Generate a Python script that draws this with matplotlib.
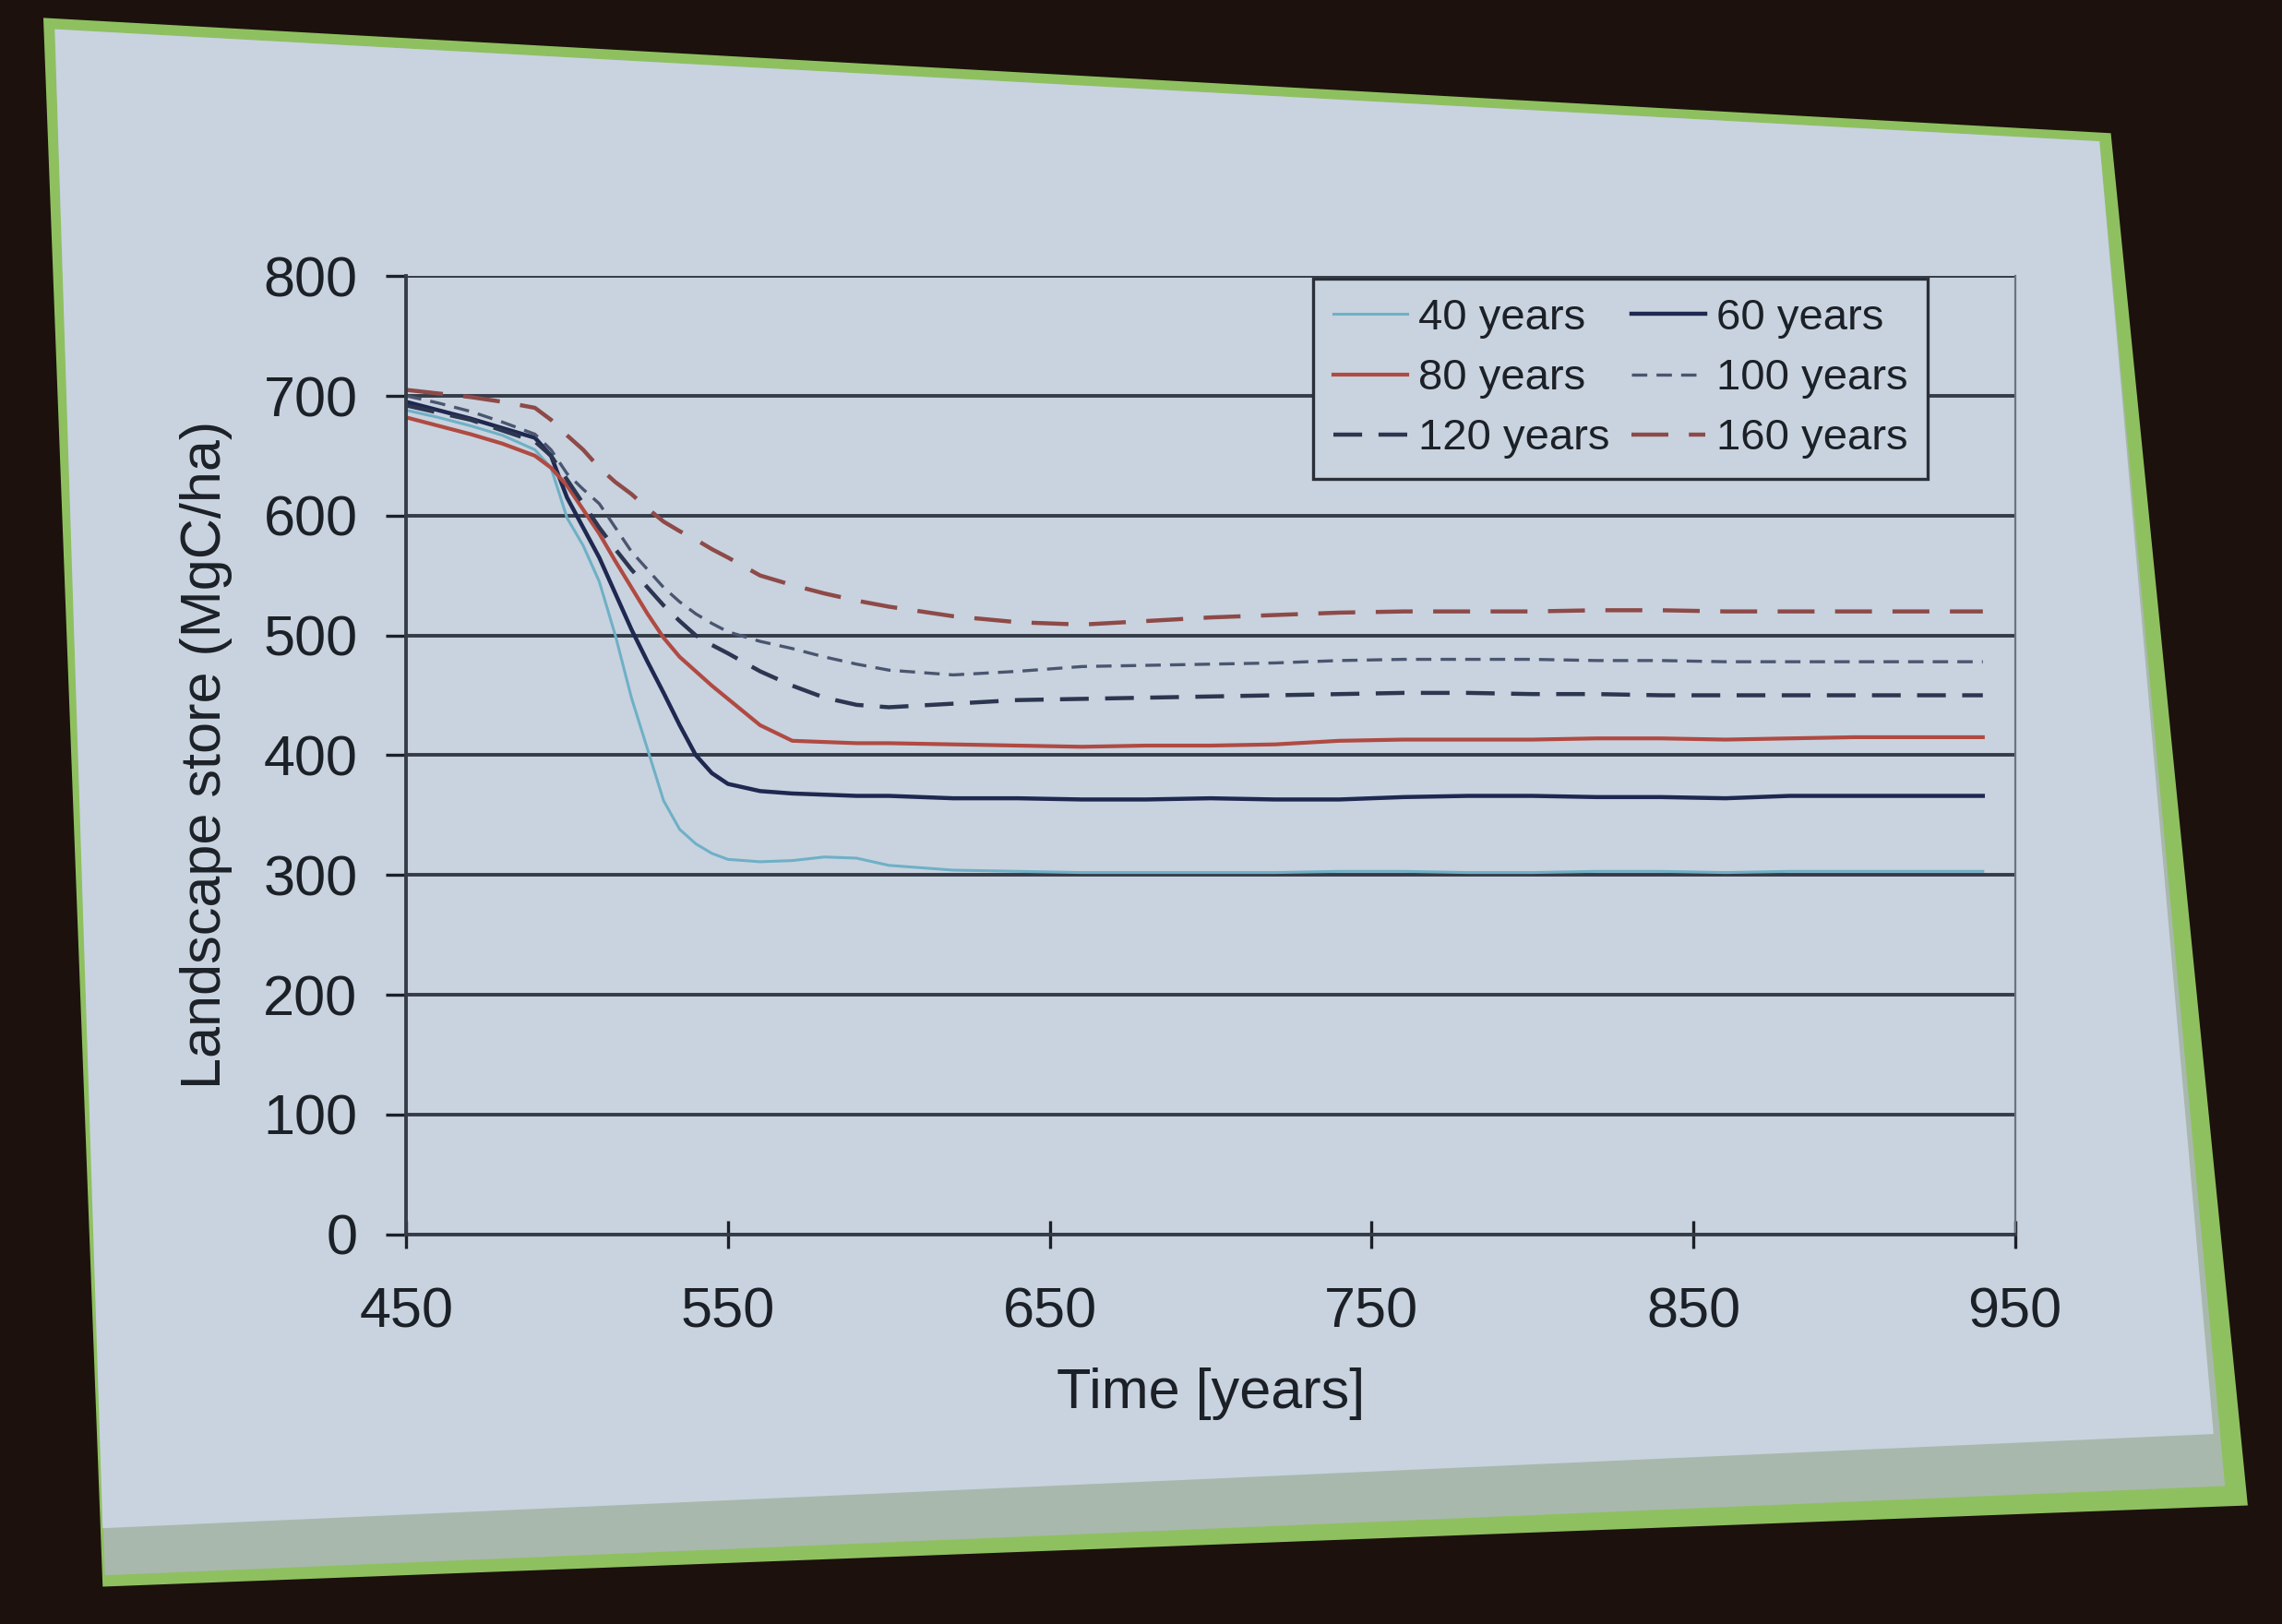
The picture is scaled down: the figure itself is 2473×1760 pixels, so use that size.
import matplotlib
matplotlib.use("Agg")
import matplotlib.pyplot as plt
from matplotlib.patches import Polygon

# values (MgC/ha)
years = [450, 460, 470, 480, 490, 495, 500, 505, 510, 515, 520, 525, 530, 535, 540,
         545, 550, 560, 570, 580, 590, 600, 620, 640, 660, 680, 700, 720, 740, 760,
         780, 800, 820, 840, 860, 880, 900, 920, 940]

y40 = [688, 682, 675, 667, 655, 640, 598, 575, 545, 500, 448, 405, 362, 338, 326,
       318, 313, 311, 312, 315, 314, 308, 304, 303, 302, 302, 302, 302, 303, 303,
       302, 302, 303, 303, 302, 303, 303, 303, 303]
y60 = [695, 688, 681, 673, 665, 650, 615, 590, 565, 535, 505, 478, 452, 425, 400,
       385, 376, 370, 368, 367, 366, 366, 364, 364, 363, 363, 364, 363, 363, 365,
       366, 366, 365, 365, 364, 366, 366, 366, 366]
y80 = [682, 675, 668, 660, 650, 640, 625, 605, 585, 562, 540, 518, 498, 482, 470,
       458, 447, 425, 412, 411, 410, 410, 409, 408, 407, 408, 408, 409, 412, 413,
       413, 413, 414, 414, 413, 414, 415, 415, 415]
y100 = [700, 694, 687, 678, 668, 655, 635, 622, 610, 590, 570, 555, 540, 528, 518,
        510, 503, 495, 489, 482, 476, 471, 467, 470, 474, 475, 476, 477, 479, 480,
        480, 480, 479, 479, 478, 478, 478, 478, 478]
y120 = [692, 686, 680, 671, 662, 650, 630, 610, 590, 572, 555, 540, 525, 512, 500,
        492, 485, 470, 458, 448, 442, 440, 443, 446, 447, 448, 449, 450, 451, 452,
        452, 451, 451, 450, 450, 450, 450, 450, 450]
y160 = [705, 702, 699, 695, 690, 680, 667, 655, 640, 628, 618, 606, 595, 587, 580,
        572, 565, 550, 542, 535, 529, 524, 516, 511, 509, 512, 515, 517, 519, 520,
        520, 520, 521, 521, 520, 520, 520, 520, 520]

labels = ["40 years", "60 years", "80 years", "100 years", "120 years", "160 years"]
series = [y40, y60, y80, y100, y120, y160]
colors = ["#6fb0c6", "#1f2850", "#b04a42", "#4a5670", "#2c3650", "#8e4a48"]
widths = [2.2, 3.2, 3.0, 2.4, 3.2, 3.2]
dashes = [None, None, None, (5, 3), (7, 4), (9, 5)]

slide = "#c8d3df"
grid = "#353c48"
ink = "#1c2027"

fig = plt.figure(figsize=(24.73, 17.6), dpi=100)
fig.patch.set_facecolor("#1c110d")
plt.rcParams["font.family"] = ["Liberation Sans", "DejaVu Sans"]

# projected slide behind the chart
def slide_piece(pts, color):
    fig.add_artist(Polygon(pts, closed=True, transform=fig.transFigure,
                           facecolor=color, edgecolor="none", zorder=-5))

slide_piece([(0.019, 0.989), (0.925, 0.918), (0.985, 0.073), (0.045, 0.023)], "#8fc060")
slide_piece([(0.024, 0.982), (0.920, 0.913), (0.975, 0.085), (0.046, 0.030)], "#a9b8ad")
slide_piece([(0.024, 0.982), (0.920, 0.913), (0.970, 0.117), (0.045, 0.059)], slide)

ax = fig.add_axes([0.178, 0.24, 0.705, 0.59])
ax.set_facecolor("none")

for i in range(len(series)):
    line, = ax.plot(years, series[i], color=colors[i], lw=widths[i], label=labels[i])
    if dashes[i] is not None:
        line.set_dashes(dashes[i])

ax.set_xlim(450, 950)
ax.set_ylim(0, 800)
ax.set_xticks([450, 550, 650, 750, 850, 950])
ax.set_yticks(range(0, 801, 100))
ax.yaxis.grid(True, color=grid, lw=2.8)
ax.set_axisbelow(True)
ax.tick_params(axis="both", labelsize=44, colors=ink, length=16, width=2.4,
               direction="out", pad=22)
ax.tick_params(axis="x", direction="inout", length=22, pad=30)
for s in ["left", "bottom"]:
    ax.spines[s].set_color(grid)
    ax.spines[s].set_linewidth(2.8)
ax.spines["top"].set_visible(False)
ax.spines["right"].set_color("#6b7380")
ax.spines["right"].set_linewidth(1.6)

ax.set_xlabel("Time [years]", fontsize=44, color=ink, labelpad=22)
ax.set_ylabel("Landscape store (MgC/ha)", fontsize=44, color=ink, labelpad=24)

h, l = ax.get_legend_handles_labels()
order = [0, 2, 4, 1, 3, 5]
leg = ax.legend([h[k] for k in order], [l[k] for k in order], ncol=2,
                loc="upper left", bbox_to_anchor=(0.566, 0.842),
                bbox_transform=fig.transFigure, fontsize=34, frameon=True,
                fancybox=False, handlelength=1.7, handletextpad=0.25,
                columnspacing=0.5, labelspacing=0.45, borderpad=0.45,
                labelcolor=ink)
leg.get_frame().set_facecolor(slide)
leg.get_frame().set_edgecolor("#2a2f38")
leg.get_frame().set_linewidth(2.4)
leg.get_frame().set_alpha(1)

plt.savefig("out.png", dpi=100, facecolor=fig.get_facecolor())
